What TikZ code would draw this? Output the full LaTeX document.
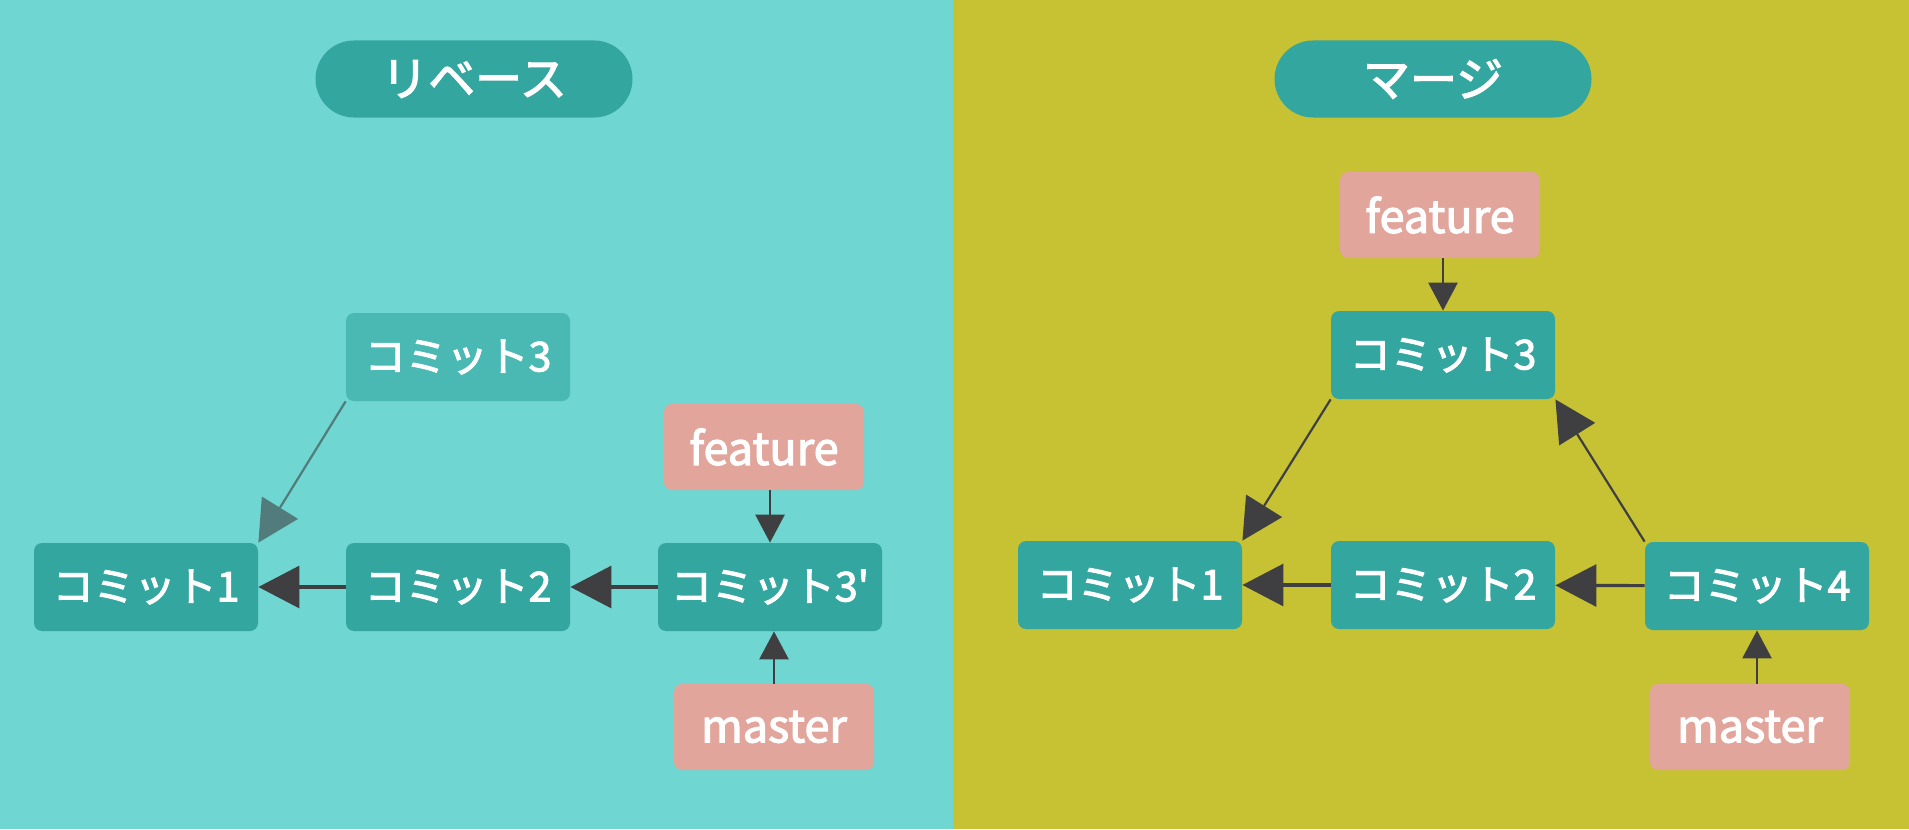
\documentclass[tikz,border=0pt]{standalone}
\usepackage{fontspec}
\setmainfont{Noto Sans CJK JP}[Ligatures=TeXOff]
\newfontfamily\medfont{Noto Sans CJK JP}[Ligatures=TeXOff,FakeBold=2.6]
\usetikzlibrary{arrows.meta,positioning,shapes.misc}
\definecolor{rebasebg}{HTML}{6FD6D1}
\definecolor{mergebg}{HTML}{C6C234}
\definecolor{cmtteal}{HTML}{34A6A0}
\definecolor{brnpink}{HTML}{E2A59B}
\definecolor{arrgray}{HTML}{3F3F42}
\tikzset{
  cmt/.style={fill=cmtteal,rounded corners=4pt,text=white,font=\medfont\fontsize{20.5}{24}\selectfont,minimum width=112pt,minimum height=44pt,inner sep=0pt},
  brn/.style={fill=brnpink,rounded corners=4pt,text=white,font=\medfont\fontsize{22.5}{26}\selectfont,minimum width=100pt,minimum height=43pt,inner sep=0pt},
  ttl/.style={fill=cmtteal,rounded rectangle,text=white,font=\medfont\fontsize{23.5}{28}\selectfont,minimum width=158.5pt,minimum height=38.5pt,inner sep=0pt},
  arr/.style={-{Triangle[length=20.5pt,width=21pt]},line width=1.6pt,draw=arrgray},
  sarr/.style={-{Triangle[length=14pt,width=14.5pt]},line width=1.4pt,draw=arrgray},
}
\begin{document}
\begin{tikzpicture}[x=0.5pt,y=-0.5pt]
\useasboundingbox (0,0) rectangle (1909,829);
\fill[rebasebg] (0,0) rectangle (953,829);
\fill[mergebg] (953,0) rectangle (1909,829);
% rebase side
\node[ttl] (ttlL) at (474,79) {リベース};
\node[cmt,fill=cmtteal!62!rebasebg] (oldL3) at (458,357) {コミット3};
\node[brn] (featL) at (764,447) {feature};
\node[cmt] (cmtL1) at (146,587) {コミット1};
\node[cmt] (cmtL2) at (458,587) {コミット2};
\node[cmt] (cmtL3p) at (770,587) {コミット3'};
\node[brn] (mstL) at (774,727) {master};
\draw[arr] (cmtL2) -- (cmtL1);
\draw[arr] (cmtL3p) -- (cmtL2);
\draw[arr,draw=arrgray!60!rebasebg,line width=1.1pt] (oldL3.south west) -- (cmtL1.north east);
\draw[sarr] (featL.south -| cmtL3p.north) -- (cmtL3p.north);
\draw[sarr] (mstL.north) -- (mstL.north |- cmtL3p.south);
% merge side
\node[ttl] (ttlR) at (1433,79) {マージ};
\node[brn] (featR) at (1440,215) {feature};
\node[cmt] (cmtR3) at (1443,355) {コミット3};
\node[cmt] (cmtR1) at (1130,585) {コミット1};
\node[cmt] (cmtR2) at (1443,585) {コミット2};
\node[cmt] (cmtR4) at (1757,586) {コミット4};
\node[brn] (mstR) at (1750,727) {master};
\draw[arr] (cmtR2) -- (cmtR1);
\draw[arr] (cmtR4) -- (cmtR2);
\draw[arr,line width=1.1pt] (cmtR3.south west) -- (cmtR1.north east);
\draw[arr,line width=1.1pt] (cmtR4.north west) -- (cmtR3.south east);
\draw[sarr] (featR.south -| cmtR3.north) -- (cmtR3.north);
\draw[sarr] (mstR.north -| cmtR4.south) -- (cmtR4.south);
\end{tikzpicture}
\end{document}
